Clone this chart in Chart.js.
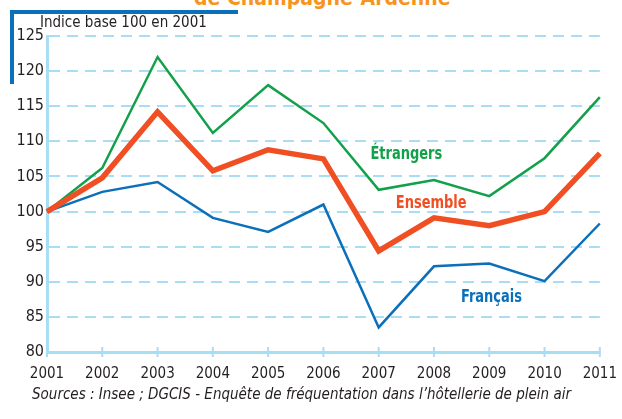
<!DOCTYPE html>
<html>
<head>
<meta charset="utf-8">
<script src="https://cdn.jsdelivr.net/npm/chart.js@4.4.0/dist/chart.umd.min.js"></script>
<style>
  body { margin: 0; background: #fff; }
  #wrap { position: relative; width: 622px; height: 419px; overflow: hidden; font-family: 'Liberation Sans Narrow', 'DejaVu Sans Condensed', Arial, sans-serif; }
  #c { position: absolute; left: 0; top: 0; }
  .title { position: absolute; left: 194px; top: -14px; color: #f7941d; font-weight: bold; font-size: 21px; white-space: nowrap; }
  .frame-h { position: absolute; left: 10px; top: 10px; width: 228px; height: 4px; background: #0b6fb9; }
  .frame-v { position: absolute; left: 10px; top: 10px; width: 4px; height: 74px; background: #0b6fb9; }
  .unit { position: absolute; left: 40px; top: 13px; font-size: 15px; color: #231f20; white-space: nowrap; }
  .source { position: absolute; left: 32px; top: 385px; font-size: 15px; font-style: italic; color: #231f20; white-space: nowrap; }
</style>
</head>
<body>
<div id="wrap">
  <div class="title">de Champagne-Ardenne</div>
  <div class="frame-h"></div>
  <div class="frame-v"></div>
  <canvas id="c" width="622" height="419"></canvas>
  <div class="unit">Indice base 100 en 2001</div>
  <div class="source">Sources : Insee ; DGCIS - Enquête de fréquentation dans l’hôtellerie de plein air</div>
</div>
<script>
// ========== DONNEES ==========
const annees = ['2001', '2002', '2003', '2004', '2005', '2006', '2007', '2008', '2009', '2010', '2011'];
const etrangers = [100, 106.2, 122, 111.2, 118, 112.6, 103.1, 104.5, 102.2, 107.6, 116.3];
const ensemble  = [100, 104.8, 114.2, 105.8, 108.8, 107.5, 94.4, 99.1, 98, 100, 108.3];
const francais  = [100, 102.8, 104.2, 99.1, 97.1, 101, 83.5, 92.2, 92.6, 90.1, 98.3];

const FONT = "'Liberation Sans Narrow', 'DejaVu Sans Condensed', Arial, sans-serif";
const AXIS_BLUE = '#a9ddf6';

// Libelles des series, places sur les echelles (indice d'annee, valeur)
const libelles = [
  { texte: 'Étrangers', x: 6.5, y: 108.1, couleur: '#12a04a' },
  { texte: 'Ensemble', x: 6.95, y: 101.1, couleur: '#f04e23' },
  { texte: 'Français', x: 8.04, y: 87.7, couleur: '#0b6fb9' }
];

const labelsPlugin = {
  id: 'libelles',
  afterDatasetsDraw(chart) {
    const { ctx, scales: { x, y } } = chart;
    libelles.forEach(l => {
      ctx.save();
      ctx.translate(x.getPixelForValue(l.x), y.getPixelForValue(l.y));
      ctx.scale(0.85, 1); // texte condense comme dans l'original
      ctx.font = 'bold 17px ' + FONT;
      ctx.textAlign = 'center';
      ctx.textBaseline = 'middle';
      ctx.fillStyle = l.couleur;
      ctx.fillText(l.texte, 0, 0);
      ctx.restore();
    });
  }
};

// Petites graduations qui traversent l'axe des abscisses
const ticksPlugin = {
  id: 'graduations',
  afterDraw(chart) {
    const { ctx, scales: { x }, chartArea } = chart;
    ctx.save();
    ctx.strokeStyle = AXIS_BLUE;
    ctx.lineWidth = 2;
    x.ticks.forEach((t, i) => {
      const px = x.getPixelForTick(i);
      ctx.beginPath();
      ctx.moveTo(px, chartArea.bottom - 5);
      ctx.lineTo(px, chartArea.bottom + 5);
      ctx.stroke();
    });
    ctx.restore();
  }
};

new Chart(document.getElementById('c'), {
  type: 'line',
  data: {
    labels: annees,
    datasets: [
      { label: 'Ensemble', data: ensemble, borderColor: '#f04e23', borderWidth: 5.5 },
      { label: 'Étrangers', data: etrangers, borderColor: '#12a04a', borderWidth: 2.5 },
      { label: 'Français', data: francais, borderColor: '#0b6fb9', borderWidth: 2.5 }
    ]
  },
  options: {
    responsive: false,
    animation: false,
    layout: { padding: { left: 0, top: 36, right: 20, bottom: 37 } },
    elements: {
      point: { radius: 0 },
      line: { tension: 0, borderJoinStyle: 'miter', borderCapStyle: 'butt' }
    },
    plugins: {
      legend: { display: false },
      tooltip: { enabled: false }
    },
    scales: {
      x: {
        grid: { display: false },
        border: { color: AXIS_BLUE, width: 3 },
        ticks: { color: '#231f20', font: { family: FONT, size: 15 }, padding: 5, maxRotation: 0, autoSkip: false },
        afterFit(scale) { scale.height = 30; }
      },
      y: {
        min: 80,
        max: 125,
        ticks: { stepSize: 5, color: '#231f20', font: { family: FONT, size: 16 }, padding: 3 },
        grid: { color: AXIS_BLUE, lineWidth: 2, drawTicks: false },
        border: { color: AXIS_BLUE, width: 3, dash: [11, 7] },
        afterFit(scale) { scale.width = 47; }
      }
    }
  },
  plugins: [labelsPlugin, ticksPlugin]
});
</script>
</body>
</html>
